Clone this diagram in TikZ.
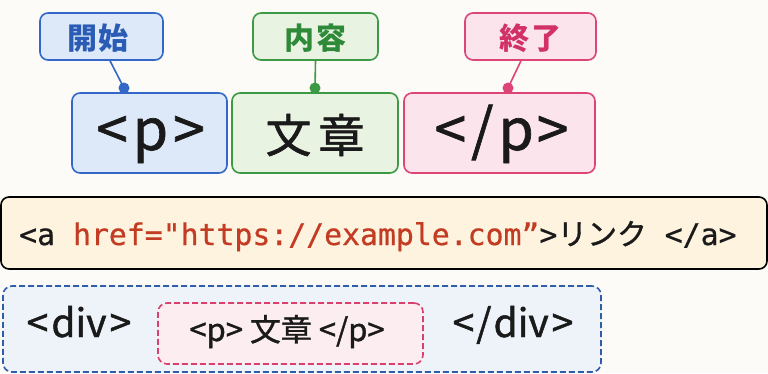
\documentclass[tikz,border=0pt]{standalone}
\usepackage{fontspec}
\setmainfont{Noto Sans CJK JP}
\newfontfamily\jpfont{Noto Sans CJK JP}
\newfontfamily\jpmed[FakeBold=1.2]{Noto Sans CJK JP}
\newfontfamily\codefont[FakeBold=0.6]{DejaVu Sans Mono}
\definecolor{bgc}{HTML}{FCFBF7}
\definecolor{bluec}{HTML}{3368C8}
\definecolor{bluefill}{HTML}{DDE9F9}
\definecolor{bluetxt}{HTML}{2A5BB5}
\definecolor{greenc}{HTML}{3C9A45}
\definecolor{greenfill}{HTML}{E8F3E2}
\definecolor{greentxt}{HTML}{2E8A38}
\definecolor{pinkc}{HTML}{DD4478}
\definecolor{pinkfill}{HTML}{FBE4EB}
\definecolor{pinktxt}{HTML}{D23168}
\definecolor{creamfill}{HTML}{FDF3DE}
\definecolor{codered}{HTML}{C23B22}
\definecolor{divfill}{HTML}{EEF3F9}
\definecolor{divc}{HTML}{2F5DA8}
\definecolor{innerc}{HTML}{D9406E}
\definecolor{innerfill}{HTML}{FBEDF0}
\definecolor{txt}{HTML}{1A1A1A}
\begin{document}
\begin{tikzpicture}[x=1pt,y=-1pt,
  lab/.style={draw, line width=1.6pt, rounded corners=8pt, minimum width=#1, minimum height=47pt, inner sep=0pt},
  labtext/.style={inner sep=0pt, font=\jpfont\fontsize{30}{32}\selectfont\bfseries},
  tagbox/.style={draw, line width=1.6pt, rounded corners=8pt, minimum height=80pt, inner sep=0pt},
  bigtext/.style={inner sep=0pt, text=txt, font=\jpmed\fontsize{57}{60}\selectfont},
  dotc/.style={circle, inner sep=0pt, minimum size=11pt},
  conn/.style={line width=1.6pt},
  dashbox/.style={draw, line width=1.6pt, dash pattern=on 6pt off 3pt, rounded corners=9pt, inner sep=0pt}]
\fill[bgc] (0,0) rectangle (768,373);
\useasboundingbox (0,0) rectangle (768,373);
% top tag boxes
\node[tagbox, draw=bluec, fill=bluefill, minimum width=155pt] (open) at (149.5,133) {};
\node[tagbox, draw=greenc, fill=greenfill, minimum width=166pt] (content) at (315,133) {};
\node[tagbox, draw=pinkc, fill=pinkfill, minimum width=191pt] (close) at (499.5,133) {};
\node[bigtext, anchor=base] (topen) at (150.5,150) {<\hspace{5pt}p\hspace{5pt}>};
\node[bigtext, font=\jpmed\fontsize{46}{50}\selectfont] (tcontent) at (315,135) {文\hspace{7pt}章};
\node[bigtext, anchor=base] (tclose) at (501.5,150) {<\hspace{5pt}/\hspace{5pt}p\hspace{3pt}>};
% labels
\node[lab=123pt, draw=bluec, fill=bluefill] (lopen) at (101.5,36.5) {};
\node[lab=125pt, draw=greenc, fill=greenfill] (lcontent) at (315.5,36.5) {};
\node[lab=131pt, draw=pinkc, fill=pinkfill] (lclose) at (530.5,36.5) {};
\node[labtext, text=bluetxt] (tlopen) at (98,38.5) {開\hspace{2pt}始};
\node[labtext, text=greentxt] (tlcontent) at (315.5,38.5) {内\hspace{2pt}容};
\node[labtext, text=pinktxt] (tlclose) at (530.5,38.5) {終\hspace{2pt}了};
% dots
\node[dotc, fill=bluec] (dopen) at (124,88) {};
\node[dotc, fill=greenc] (dcontent) at (315,88) {};
\node[dotc, fill=pinkc] (dclose) at (508,88) {};
\draw[conn, bluec] (lopen.south -| 110,0) -- (dopen.center);
\draw[conn, greenc] (lcontent.south) -- (dcontent.center);
\draw[conn, pinkc] (lclose.south -| 521,0) -- (dclose.center);
% link box
\node[draw=black, line width=1.6pt, fill=creamfill, rounded corners=8pt, minimum width=766pt, minimum height=72pt, inner sep=0pt] (link) at (384,233) {};
\node[anchor=base west, inner sep=0pt, text=txt, font=\codefont\fontsize{29.8}{32}\selectfont] (linktext) at (19,245) {<a \textcolor{codered}{href="https://example.com”}>{\jpmed リンク} </a>};
% div box
\node[dashbox, draw=divc, fill=divfill, minimum width=598pt, minimum height=86pt] (div) at (302,329) {};
\node[dashbox, draw=innerc, fill=innerfill, minimum width=265pt, minimum height=61pt] (inner) at (290.5,333.5) {};
\node[anchor=base, text=txt, inner sep=0pt, font=\jpmed\fontsize{39}{42}\selectfont] (divopen) at (79,337) {<\hspace{3pt}div\hspace{3pt}>};
\node[anchor=base, text=txt, inner sep=0pt, font=\jpmed\fontsize{39}{42}\selectfont] (divclose) at (513,337) {<\hspace{2pt}/\hspace{2pt}div\hspace{3pt}>};
\node[anchor=base, text=txt, inner sep=0pt, font=\jpmed\fontsize{31}{34}\selectfont] (innertext) at (287,341) {<p> 文章 </p>};
\end{tikzpicture}
\end{document}
